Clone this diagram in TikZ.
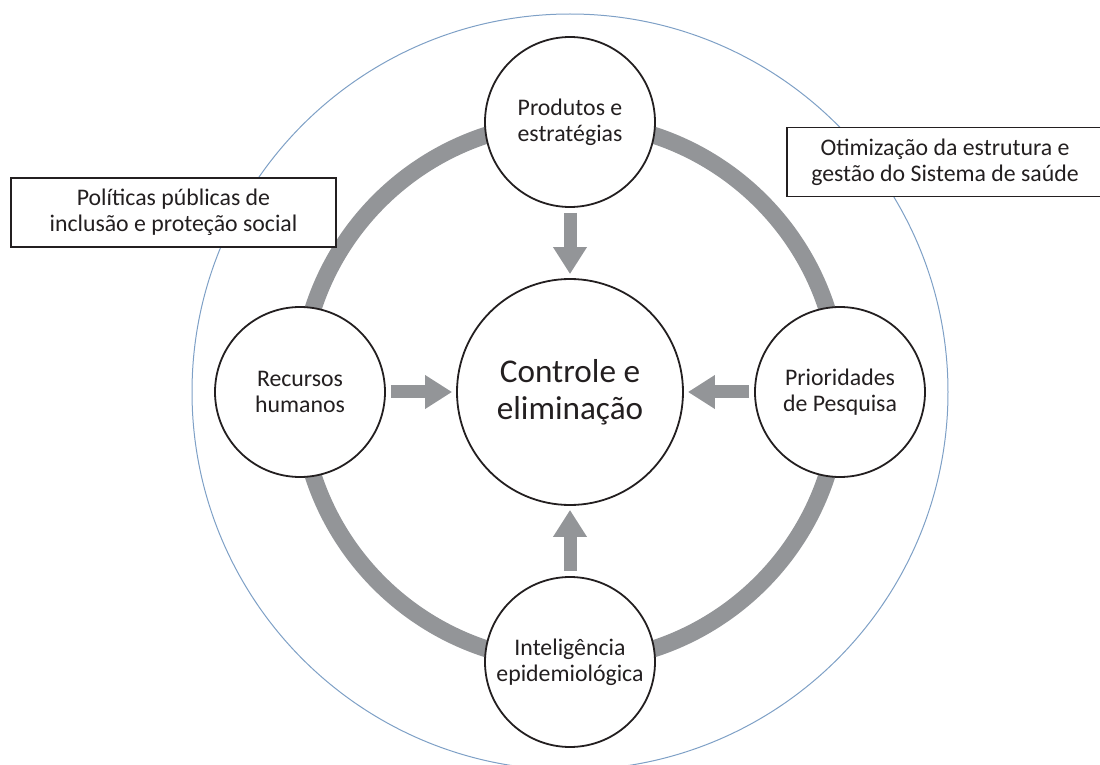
\documentclass[tikz,border=0pt]{standalone}
\usepackage{fontspec}
\setmainfont{Carlito}
\usetikzlibrary{arrows.meta}

\definecolor{ringgray}{RGB}{147,149,152}
\definecolor{rimblue}{RGB}{126,160,198}
\definecolor{ink}{RGB}{35,31,32}

\begin{document}
\begin{tikzpicture}[x=0.5pt,y=-0.5pt,->,>={Triangle[width=16pt,length=13.5pt]},node distance=135pt,semithick,
  hub/.style={circle,draw=ink,fill=white,line width=0.9pt,minimum size=85pt,inner sep=0pt,align=center,text=ink,font=\fontsize{11.9}{12.8}\selectfont},
  core/.style={hub,minimum size=113pt,font=\fontsize{16.6}{18.5}\selectfont},
  note/.style={rectangle,draw=ink,fill=white,line width=0.9pt,minimum height=34.5pt,align=center,text=ink,font=\fontsize{11.9}{13}\selectfont},
  flow/.style={draw=ringgray,line width=6.5pt,shorten <=2.5pt,shorten >=2pt}]

\useasboundingbox (0,0) rectangle (1100,765);

% outer rim and the grey ring
\draw[-,rimblue,line width=0.5pt] (570,392) circle (189pt);
\draw[-,ringgray,line width=8.5pt] (570,392) circle (135pt);

\node[note,minimum width=162.5pt] (pol) at (173.5,212.5) {Políticas públicas de\\inclusão e proteção social};
\node[note,minimum width=158pt]   (oti) at (945,162)     {Otimização da estrutura e\\gestão do Sistema de saúde};

\node[core] (ctr)                   at (570,392) {Controle e\\eliminação};
\node[hub]  (prod)  [above of=ctr] {Produtos e\\estratégias};
\node[hub]  (rec)   [left of=ctr]  {Recursos\\humanos};
\node[hub]  (prio)  [right of=ctr] {Prioridades\\de Pesquisa};
\node[hub]  (intel) [below of=ctr] {Inteligência\\epidemiológica};

\path
(prod)  edge [flow] (ctr)
(rec)   edge [flow] (ctr)
(prio)  edge [flow] (ctr)
(intel) edge [flow] (ctr)
;
\end{tikzpicture}
\end{document}
